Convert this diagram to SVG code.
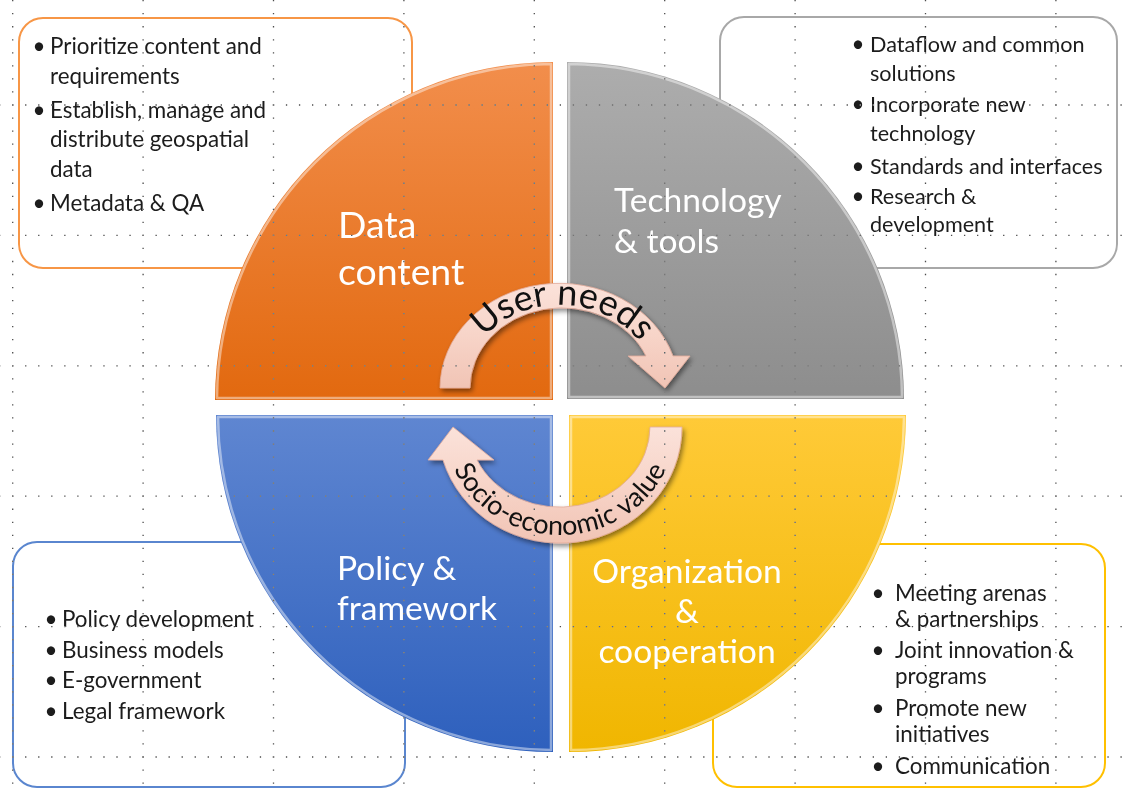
<svg xmlns="http://www.w3.org/2000/svg" width="1126" height="789" viewBox="0 0 1126 789">
<style>
.bt{font-family:Lato,"Open Sans","DejaVu Sans",sans-serif;font-size:22.4px;fill:#1c1c1c}
.bt2{font-size:21.6px}
.bul{font-family:Lato,"Open Sans","DejaVu Sans",sans-serif;font-size:22.4px;fill:#1c1c1c;text-anchor:middle}
.ql{font-family:Lato,"Open Sans","DejaVu Sans",sans-serif;font-size:33.6px;fill:#ffffff}
.qlb{font-size:37.4px}
.box{fill:#ffffff;stroke-width:2}
.bevel{fill:none;stroke:#ffffff;stroke-opacity:0.45;stroke-width:2.5;stroke-linejoin:round}
.arr{fill:url(#gArr);stroke:#e2ab9a;stroke-width:0.8;filter:url(#shadow)}
.at{font-family:Lato,"Open Sans","DejaVu Sans",sans-serif;fill:#111111}
.grid{stroke:#ffffff;stroke-width:1.3;stroke-dasharray:1.3 11.74;fill:none;opacity:0.7;mix-blend-mode:difference}
</style>
<defs>
<linearGradient id="gOr" x1="0" y1="0" x2="0" y2="1"><stop offset="0" stop-color="#F28E4C"/><stop offset="1" stop-color="#E2690F"/></linearGradient>
<linearGradient id="gGr" x1="0" y1="0" x2="0" y2="1"><stop offset="0" stop-color="#ADADAD"/><stop offset="1" stop-color="#8D8D8D"/></linearGradient>
<linearGradient id="gBl" x1="0" y1="0" x2="0" y2="1"><stop offset="0" stop-color="#5F86D1"/><stop offset="1" stop-color="#2E60BD"/></linearGradient>
<linearGradient id="gYe" x1="0" y1="0" x2="0" y2="1"><stop offset="0" stop-color="#FFCA38"/><stop offset="1" stop-color="#F0B600"/></linearGradient>
<linearGradient id="gArr" x1="0" y1="0" x2="0" y2="1"><stop offset="0" stop-color="#FBE2DA"/><stop offset="0.5" stop-color="#F7D4C8"/><stop offset="1" stop-color="#F1C4B5"/></linearGradient>
<filter id="shadow" x="-10%" y="-10%" width="130%" height="130%"><feDropShadow dx="2" dy="3" stdDeviation="2.5" flood-color="#000000" flood-opacity="0.45"/></filter>
<path id="pUser" d="M 464 388 A 96 83 0 0 1 656 388"/>
<path id="pSocio" d="M 445 427 A 115 108 0 0 0 675 427"/>
</defs>
<rect x="0" y="0" width="1126" height="789" fill="#ffffff"/>

<g id="box-data">
<rect class="box" x="19" y="18" width="393" height="250" rx="24" stroke="#F79646"/>
<text class="bul" x="39" y="54">•</text><text class="bt" x="50" y="54">Prioritize content and</text>
<text class="bt" x="50" y="84">requirements</text>
<text class="bul" x="39" y="118">•</text><text class="bt" x="50" y="118">Establish, manage and</text>
<text class="bt" x="50" y="147">distribute geospatial</text>
<text class="bt" x="50" y="177">data</text>
<text class="bul" x="39" y="211">•</text><text class="bt" x="50" y="211">Metadata &amp; QA</text>
</g>

<g id="box-tech">
<rect class="box" x="720" y="17" width="397" height="251" rx="24" stroke="#A8A8A8"/>
<text class="bul" x="858" y="52">•</text><text class="bt bt2" x="870" y="52">Dataflow and common</text>
<text class="bt bt2" x="870" y="81">solutions</text>
<text class="bul" x="858" y="112">•</text><text class="bt bt2" x="870" y="112">Incorporate new</text>
<text class="bt bt2" x="870" y="141">technology</text>
<text class="bul" x="858" y="174">•</text><text class="bt bt2" x="870" y="174">Standards and interfaces</text>
<text class="bul" x="858" y="204">•</text><text class="bt bt2" x="870" y="204">Research &amp;</text>
<text class="bt bt2" x="870" y="232">development</text>
</g>

<g id="box-policy">
<rect class="box" x="13" y="542" width="392" height="245" rx="24" stroke="#5A86CF"/>
<text class="bul" x="51" y="627">•</text><text class="bt" x="62" y="627">Policy development</text>
<text class="bul" x="51" y="658">•</text><text class="bt" x="62" y="658">Business models</text>
<text class="bul" x="51" y="688">•</text><text class="bt" x="62" y="688">E-government</text>
<text class="bul" x="51" y="719">•</text><text class="bt" x="62" y="719">Legal framework</text>
</g>

<g id="box-org">
<rect class="box" x="713" y="544" width="392" height="243" rx="24" stroke="#FFC000"/>
<text class="bul" x="878" y="601">•</text><text class="bt" x="895" y="601">Meeting arenas</text>
<text class="bt" x="895" y="627">&amp; partnerships</text>
<text class="bul" x="878" y="658">•</text><text class="bt" x="895" y="658">Joint innovation &amp;</text>
<text class="bt" x="895" y="684">programs</text>
<text class="bul" x="878" y="716">•</text><text class="bt" x="895" y="716">Promote new</text>
<text class="bt" x="895" y="742">initiatives</text>
<text class="bul" x="878" y="774">•</text><text class="bt" x="895" y="774">Communication</text>
</g>

<g id="q-data">
<path d="M 553 400 L 215 400 A 338 338 0 0 1 553 62 Z" fill="url(#gOr)"/>
<path class="bevel" d="M 551 398 L 217 398 A 336 336 0 0 1 551 64 Z"/>
<text class="ql qlb" x="338" y="238">Data</text>
<text class="ql qlb" x="338" y="285">content</text>
</g>

<g id="q-tech">
<path d="M 567 399 L 567 62 A 337 337 0 0 1 904 399 Z" fill="url(#gGr)"/>
<path class="bevel" d="M 569 397 L 569 64 A 335 335 0 0 1 902 397 Z"/>
<text class="ql" x="614" y="212">Technology</text>
<text class="ql" x="614" y="253">&amp; tools</text>
</g>

<g id="q-policy">
<path d="M 553 415 L 553 752 A 337 337 0 0 1 216 415 Z" fill="url(#gBl)"/>
<path class="bevel" d="M 551 417 L 551 750 A 335 335 0 0 1 218 417 Z"/>
<text class="ql" x="337" y="580">Policy &amp;</text>
<text class="ql" x="337" y="620">framework</text>
</g>

<g id="q-org">
<path d="M 569 415 L 906 415 A 337 337 0 0 1 569 752 Z" fill="url(#gYe)"/>
<path class="bevel" d="M 571 417 L 904 417 A 335 335 0 0 1 571 750 Z"/>
<text class="ql" x="687" y="583" text-anchor="middle">Organization</text>
<text class="ql" x="687" y="623" text-anchor="middle">&amp;</text>
<text class="ql" x="687" y="663" text-anchor="middle">cooperation</text>
</g>

<g id="connectors">
<g id="arrow-user-needs">
<path class="arr" d="M 440 388 A 119.4 105 0 0 1 673 356 L 690 356 L 665 388 L 628 356 L 646 356 A 91.8 80 0 0 0 470 388 Z"/>
<text class="at" font-size="36"><textPath href="#pUser" startOffset="51%" text-anchor="middle">User needs</textPath></text>
</g>
<g id="arrow-socio">
<path class="arr" d="M 682 427 A 122 116 0 0 1 443 460 L 428 460 L 453 427 L 494 460 L 477 460 A 90.5 80 0 0 0 650 427 Z"/>
<text class="at" font-size="27" letter-spacing="0.3"><textPath href="#pSocio" startOffset="50%" text-anchor="middle">Socio-economic value</textPath></text>
</g>
</g>

<g id="grid">
<path class="grid" d="M -118.35 105 H 1200 M -118.35 235.4 H 1200 M -118.35 365.8 H 1200 M -118.35 496.2 H 1200 M -118.35 626.6 H 1200 M -118.35 757 H 1200"/>
<path class="grid" d="M 12.7 -26.05 V 800 M 143.1 -26.05 V 800 M 273.5 -26.05 V 800 M 403.9 -26.05 V 800 M 534.3 -26.05 V 800 M 664.7 -26.05 V 800 M 795.1 -26.05 V 800 M 925.5 -26.05 V 800 M 1055.9 -26.05 V 800"/>
</g>
</svg>
